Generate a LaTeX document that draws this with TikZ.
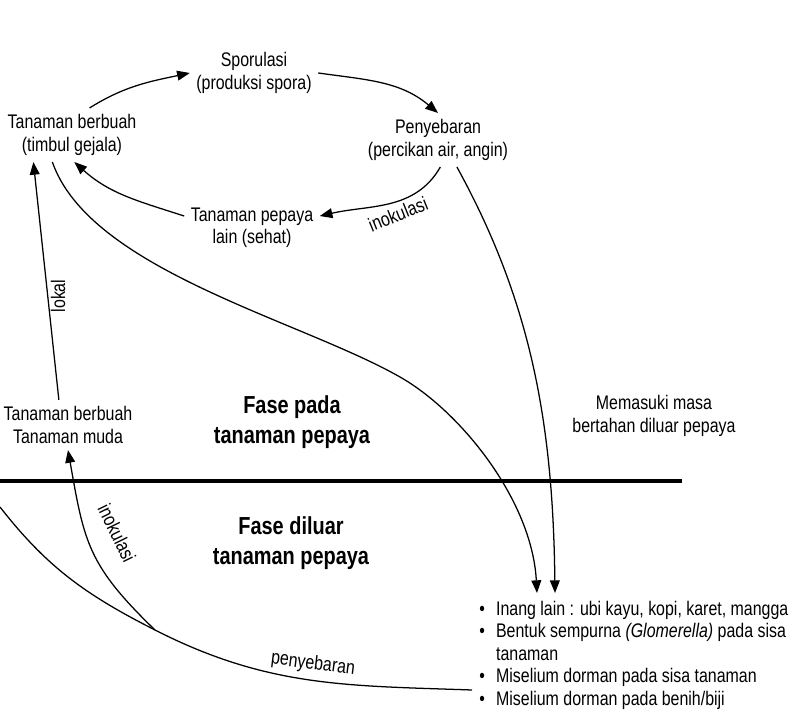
\documentclass[tikz,border=0pt]{standalone}
\usepackage{fontspec}
\setmainfont[FakeStretch=0.81]{Liberation Sans}
\usetikzlibrary{arrows.meta}

\tikzset{
  stage/.style={align=center, inner sep=4.5pt},
  phase/.style={align=center, font=\fontsize{17.5}{21}\selectfont\bfseries},
  route/.style={line width=0.9pt, -{Triangle[length=9pt,width=7pt]}},
  plain/.style={line width=0.9pt},
  tag/.style={inner sep=1pt},
}

\begin{document}
\begin{tikzpicture}[x=0.025cm, y=0.025cm, font=\fontsize{14}{16}\selectfont]
\useasboundingbox (0,0) rectangle (804,-720);
% cycle on the papaya plants
\node[stage] (spor) at (254,-73) {Sporulasi\\(produksi spora)};
\node[stage] (peny) at (438,-140) {Penyebaran\\(percikan air, angin)};
\node[stage] (pepaya) at (252,-228) {Tanaman pepaya\\lain (sehat)};
\node[stage] (berbuah) at (72,-135) {Tanaman berbuah\\(timbul gejala)};
\node[stage] (muda) at (68,-425) {Tanaman berbuah\\Tanaman muda};
\node[stage] (masa) at (654,-416) {Memasuki masa\\bertahan diluar pepaya};
\node[phase] (pada) at (292,-422) {Fase pada\\tanaman pepaya};
\node[phase] (luar) at (291,-543) {Fase diluar\\tanaman pepaya};
% survival outside papaya
\node[anchor=north west, inner sep=0pt] (hosts) at (479,-599) {%
  \begin{tabular}{@{}l@{\hspace{8pt}}l@{}}
  \textbullet & Inang lain : ubi kayu, kopi, karet, mangga\\
  \textbullet & Bentuk sempurna \textit{(Glomerella)} pada sisa\\
              & tanaman\\
  \textbullet & Miselium dorman pada sisa tanaman\\
  \textbullet & Miselium dorman pada benih/biji
  \end{tabular}};

\coordinate (divL) at (0,-481);
\coordinate (divR) at (682,-481);
\draw[line width=2.4pt] (divL) -- (divR);

\draw[route] (berbuah.57) to[out=32, in=192] (spor.west);
\draw[route] (spor.east) to[out=-8, in=140] (peny.north);
\draw[route] (peny.-85) to[out=-120, in=13] (pepaya.10);
\draw[route] (pepaya.170) to[out=162, in=-42] (berbuah.-85);
\node[tag, rotate=22] (inok1) at (398,-214) {inokulasi};

\draw[route] (berbuah.-126) .. controls (90,-270) and (300,-320) .. (400,-377)
  .. controls (460,-411) and (532,-500) .. ([shift={(58,6)}]hosts.north west);
\draw[route] (peny.-55) .. controls (530,-300) and (553,-420) .. ([shift={(76,6)}]hosts.north west);

\draw[route] (muda.110) -- (berbuah.-145);
\node[tag, rotate=90] (lokal) at (58,-296) {lokal};

% spread back to young plants
\coordinate (leftend) at (0,-507);
\coordinate (junc) at (155,-630);
\coordinate (penyEnd) at (472,-690);
\draw[plain] (leftend) to[out=-52, in=153] (junc) to[out=-27, in=178] (penyEnd);
\draw[route] (junc) to[out=136, in=-80, looseness=1.2] (muda.south);
\node[tag, rotate=-64] (inok2) at (117,-533) {inokulasi};
\node[tag, rotate=-7] (sebar) at (313,-664) {penyebaran};
\end{tikzpicture}
\end{document}
